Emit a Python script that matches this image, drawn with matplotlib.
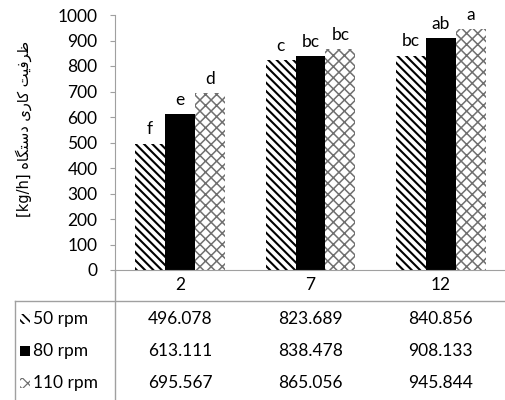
import matplotlib.pyplot as plt
import numpy as np

# داده‌ها
categories = ['2', '7', '12']
series_names = ['50 rpm', '80 rpm', '110 rpm']
v50 = [496.078, 823.689, 840.856]
v80 = [613.111, 838.478, 908.133]
v110 = [695.567, 865.056, 945.844]
letters50 = ['f', 'c', 'bc']
letters80 = ['e', 'bc', 'ab']
letters110 = ['d', 'bc', 'a']

# ظرفیت کاری دستگاه (presentation forms, visual order)
ylabel = ('[kg/h] '
          '\uFEE9\uFE8E\uFB95\uFE98\uFEB3\uFEA9 '
          '\uFBFC\uFEAD\uFE8E\uFB90 '
          '\uFE96\uFBFF\uFED3\uFEAE\uFEC7')

plt.rcParams['font.family'] = ['Lato', 'DejaVu Sans']
plt.rcParams['font.size'] = 12
plt.rcParams['hatch.linewidth'] = 1.4

W, H = 506, 400
fig = plt.figure(figsize=(W / 100, H / 100), dpi=100)
ax = fig.add_axes([115 / W, 1 - 270 / H, (506 - 115) / W, 255 / H])

x = np.arange(len(categories))
bw = 0.23
styles = [
    dict(facecolor='white', edgecolor='black', hatch='\\\\\\\\', hlw=1.5),
    dict(facecolor='black', edgecolor='black', hatch=None, hlw=1.0),
    dict(facecolor='white', edgecolor='#707070', hatch='xxx', hlw=1.1),
]
all_vals = [v50, v80, v110]
all_letters = [letters50, letters80, letters110]
for i, (vals, st) in enumerate(zip(all_vals, styles)):
    bars = ax.bar(x + (i - 1) * bw, vals, bw, color=st['facecolor'],
                  edgecolor=st['edgecolor'], hatch=st['hatch'], linewidth=0)
    for b in bars:
        if hasattr(b, 'set_hatch_linewidth'):
            b.set_hatch_linewidth(st['hlw'])
    for xi, v, lab in zip(x + (i - 1) * bw, vals, all_letters[i]):
        ax.text(xi, v + 24, lab, ha='center', va='bottom', fontsize=12.5)

ax.set_xlim(-0.5, 2.5)
ax.set_ylim(0, 1000)
ax.set_yticks(range(0, 1001, 100))
ax.set_xticks(x)
ax.set_xticklabels(categories)
ax.tick_params(axis='x', length=0, pad=5, labelsize=12.5)
ax.tick_params(axis='y', length=3.6, color='#a0a0a0', pad=9, labelsize=12.5)
for s in ['top', 'right']:
    ax.spines[s].set_visible(False)
for s in ['left', 'bottom']:
    ax.spines[s].set_color('#a0a0a0')
ax.set_ylabel(ylabel, fontsize=10.5, family=['DejaVu Sans'])
ax.yaxis.set_label_coords(-83 / 391, 0.555)

# جدول داده‌ها
line_kw = dict(color='#a0a0a0', linewidth=1)
fig.add_artist(plt.Line2D([15 / W, 1], [1 - 301 / H] * 2, **line_kw))
fig.add_artist(plt.Line2D([115 / W] * 2, [1 - 270 / H, 0], **line_kw))
fig.add_artist(plt.Line2D([15 / W] * 2, [1 - 301 / H, 0], **line_kw))

row_y = [319, 351, 383]
for r, (name, vals, st) in enumerate(zip(series_names, all_vals, styles)):
    yy = 1 - row_y[r] / H
    key = plt.Rectangle((20 / W, yy - 5 / H), 10 / W, 10 / H,
                        transform=fig.transFigure, facecolor=st['facecolor'],
                        edgecolor=st['edgecolor'], hatch=st['hatch'], linewidth=0)
    if hasattr(key, 'set_hatch_linewidth'):
        key.set_hatch_linewidth(st['hlw'] * 0.8)
    fig.add_artist(key)
    fig.text(33 / W, yy, name, ha='left', va='center', fontsize=12.5)
    for xi, v in zip(x, vals):
        xf = fig.transFigure.inverted().transform(ax.transData.transform((xi, 0)))[0]
        fig.text(xf, yy, f'{v:.3f}', ha='center', va='center', fontsize=12.5)

fig.savefig('out.png', dpi=100)
